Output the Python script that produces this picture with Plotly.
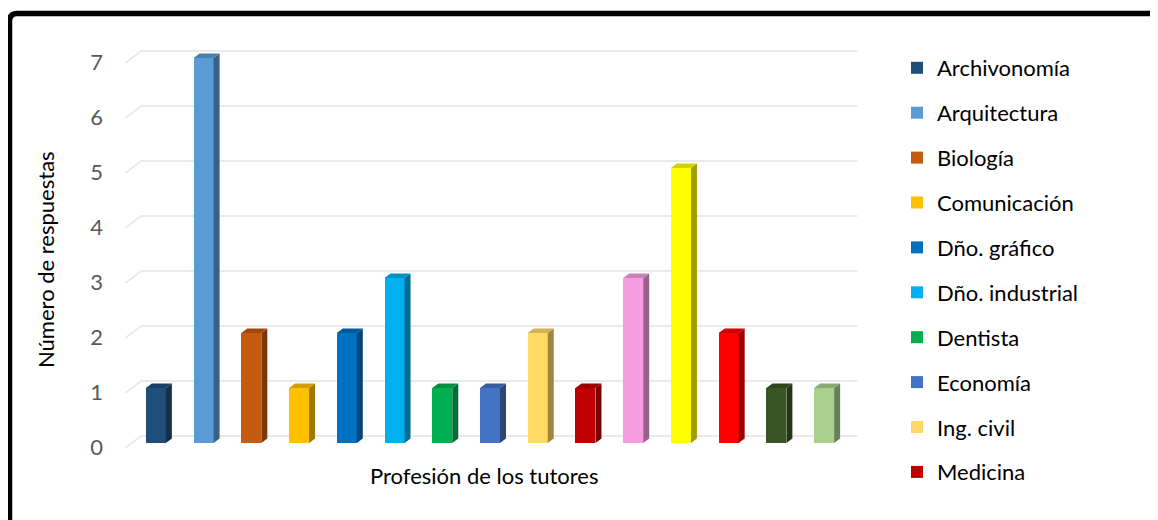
import plotly.graph_objects as go

# ---------------- data ----------------
categorias = ["Archivonomía", "Arquitectura", "Biología", "Comunicación", "Dño. gráfico",
              "Dño. industrial", "Dentista", "Economía", "Ing. civil", "Medicina",
              "Profesión 11", "Profesión 12", "Profesión 13", "Profesión 14", "Profesión 15"]
respuestas = [1, 7, 2, 1, 2, 3, 1, 1, 2, 1, 3, 5, 2, 1, 1]
colores = ["#1F4E79", "#5B9BD5", "#C55A11", "#FFC000", "#0070C0",
           "#00B0F0", "#00B050", "#4472C4", "#FFD966", "#C00000",
           "#F59DE2", "#FFFF00", "#FF0000", "#375623", "#A9D08E"]
en_leyenda = 10          # the legend in the reference lists the first ten
valores_y = [0, 1, 2, 3, 4, 5, 6, 7]
titulo_x = "Profesión de los tutores"
titulo_y = "Número de respuestas"

# ---------------- geometry (screen pixels; page body has an 8px margin) ----------------
OFF = 8
W, H = 1158 - OFF, 520 - OFF


def sx(px):   # screen x -> figure x
    return px - OFF


def sy(py):   # screen y -> figure y
    return py - OFF


PL, PR, PT, PB = sx(118), sx(872), sy(18), sy(512)   # plot area (figure px)
CAT_L, CAT_R = sx(132), sx(848)                      # category band (bar plane)
Y0_PX, UNIT_Y = sy(443), 55.0                         # value 0 pixel, px per unit
n = len(categorias)
UNIT_X = (CAT_R - CAT_L) / n
xr0 = -0.5 - (CAT_L - PL) / UNIT_X
xr1 = n - 0.5 + (PR - CAT_R) / UNIT_X
yr0 = -(PB - Y0_PX) / UNIT_Y
yr1 = (Y0_PX - PT) / UNIT_Y


def dx(px):
    return px / UNIT_X


def dy(px):
    return px / UNIT_Y


BAR_W = 20 / UNIT_X
SIDE_X, SIDE_Y = dx(6), dy(4.5)


def shade(hexc, f):
    h = hexc.lstrip("#")
    r, g, b = (int(h[i:i + 2], 16) for i in (0, 2, 4))
    return "rgb(%d,%d,%d)" % (r * f, g * f, b * f)


def paper_x(px):  # screen px -> paper
    return (sx(px) - PL) / (PR - PL)


def paper_y(py):
    return (PB - sy(py)) / (PB - PT)


fig = go.Figure()

for i, (cat, val, col) in enumerate(zip(categorias, respuestas, colores)):
    show = i < en_leyenda
    fig.add_trace(go.Bar(x=[i], y=[val], width=BAR_W, name=cat,
                         marker=dict(color=col, line=dict(width=0)),
                         legendgroup=cat, showlegend=show,
                         hovertemplate=cat + ": %{y}<extra></extra>"))
for i, (cat, val, col) in enumerate(zip(categorias, respuestas, colores)):
    xl, xr = i - BAR_W / 2, i + BAR_W / 2
    # side face
    fig.add_trace(go.Scatter(x=[xr, xr + SIDE_X, xr + SIDE_X, xr, xr],
                             y=[0, SIDE_Y, val + SIDE_Y, val, 0],
                             fill="toself", fillcolor=shade(col, 0.62),
                             line=dict(width=0), mode="lines",
                             showlegend=False, hoverinfo="skip", legendgroup=cat))
    # top face
    fig.add_trace(go.Scatter(x=[xl, xl + SIDE_X, xr + SIDE_X, xr, xl],
                             y=[val, val + SIDE_Y, val + SIDE_Y, val, val],
                             fill="toself", fillcolor=shade(col, 0.82),
                             line=dict(width=0), mode="lines",
                             showlegend=False, hoverinfo="skip", legendgroup=cat))

# 3D-like gridlines (floor front edge -> back wall)
FRONT_X, FRONT_Y = dx(-6.7), dy(-5)
BACK_X, BACK_Y = dx(9.3), dy(7)
shapes = []
for v in valores_y:
    path = "M %f,%f L %f,%f L %f,%f" % (
        -0.5 + FRONT_X, v + FRONT_Y,
        -0.5 + BACK_X, v + BACK_Y,
        n - 0.5 + BACK_X, v + BACK_Y)
    shapes.append(dict(type="path", path=path, xref="x", yref="y", layer="below",
                       line=dict(color="#EAEAEA", width=2)))

# outer black frame (top-left corner visible, extends past right/bottom)
fx, fy = paper_x(9.5), paper_y(13.5)
frame = "M %f,%f L %f,%f Q %f,%f %f,%f L %f,%f" % (
    fx, paper_y(540), fx, paper_y(21), fx, fy, paper_x(17), fy, paper_x(1180), fy)
shapes.append(dict(type="path", path=frame, xref="paper", yref="paper",
                   line=dict(color="black", width=5.5)))

FONT = "Lato, Carlito, 'Open Sans', sans-serif"
fig.update_layout(
    width=W, height=H,
    margin=dict(l=PL, r=W - PR, t=PT, b=H - PB, pad=0),
    paper_bgcolor="white", plot_bgcolor="white",
    font=dict(family=FONT, size=22, color="#000000"),
    bargap=0, barmode="overlay",
    shapes=shapes,
    xaxis=dict(range=[xr0, xr1], showgrid=False, zeroline=False, showline=False,
               showticklabels=False, fixedrange=True),
    yaxis=dict(range=[yr0, yr1], showgrid=False, zeroline=False, showline=False,
               tickvals=valores_y, ticktext=[str(v) for v in valores_y],
               tickfont=dict(size=22, color="#595959", family=FONT),
               ticklabelshift=4, ticklabelstandoff=14, fixedrange=True),
    legend=dict(x=paper_x(897), xanchor="left", y=paper_y(47), yanchor="top",
                tracegroupgap=13.3, font=dict(size=22, color="#000000", family=FONT),
                bgcolor="rgba(0,0,0,0)", itemclick=False, itemdoubleclick=False),
    annotations=[
        dict(text=titulo_x, xref="paper", yref="paper", x=paper_x(484), y=paper_y(475),
             showarrow=False, xanchor="center", yanchor="middle",
             font=dict(size=22, color="#000000", family=FONT)),
        dict(text=titulo_y, xref="paper", yref="paper", x=paper_x(46), y=paper_y(260),
             showarrow=False, textangle=-90, xanchor="center", yanchor="middle",
             font=dict(size=22, color="#000000", family=FONT)),
    ],
)

fig.write_html("out.html")
